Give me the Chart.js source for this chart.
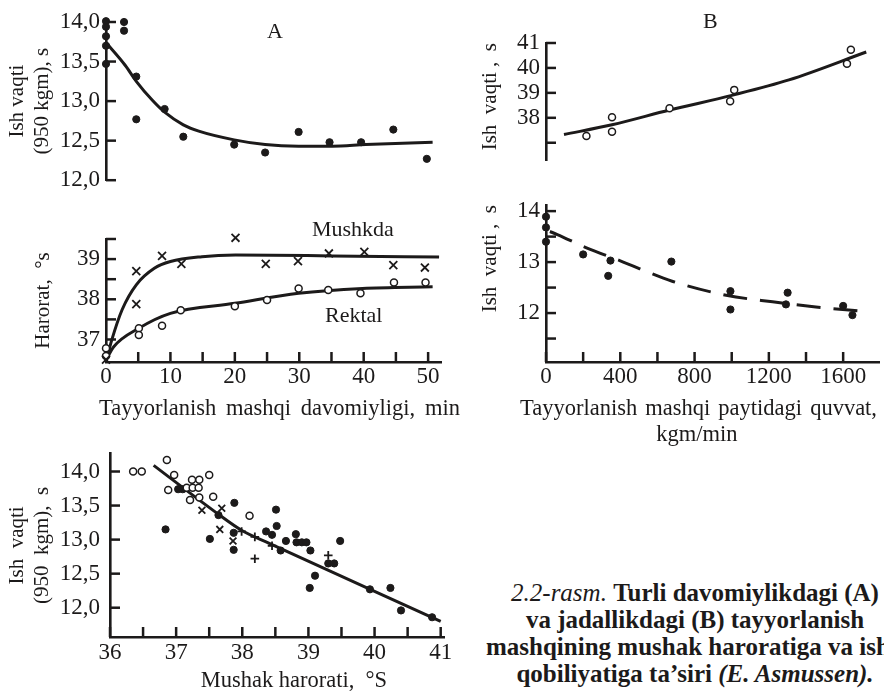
<!DOCTYPE html>
<html>
<head>
<meta charset="utf-8">
<script src="https://cdn.jsdelivr.net/npm/chart.js@4.4.1/dist/chart.umd.min.js"></script>
<style>
  html, body { margin: 0; padding: 0; background: #fff; }
  #wrap { position: relative; width: 884px; height: 695px; overflow: hidden;
          font-family: "Liberation Serif", "DejaVu Serif", serif; color: #1c1a1a; }
  #wrap canvas { position: absolute; }
  .lbl { position: absolute; font-size: 22px; line-height: 1; white-space: nowrap; }
  .xt { position: absolute; font-size: 22.5px; line-height: 1; white-space: nowrap;
        display: flex; justify-content: space-between; }
  .cap { position: absolute; font-size: 25px; line-height: 1; white-space: nowrap;
         transform: translateX(-50%); }
</style>
</head>
<body>
<div id="wrap">
  <canvas id="cA1" width="446" height="200" style="left:0;top:0"></canvas>
  <canvas id="cA2" width="470" height="230" style="left:0;top:200px"></canvas>
  <canvas id="cB1" width="438" height="180" style="left:446px;top:0"></canvas>
  <canvas id="cB2" width="438" height="270" style="left:446px;top:180px"></canvas>
  <canvas id="cC" width="460" height="265" style="left:0;top:430px"></canvas>

  <div class="lbl" style="left:267px;top:20px">A</div>
  <div class="lbl" style="left:703px;top:10px">B</div>
  <div class="lbl" style="left:312px;top:218px">Mushkda</div>
  <div class="lbl" style="left:325px;top:304px">Rektal</div>

  <div class="xt" style="left:99px;top:397px;width:361px">
    <span>Tayyorlanish</span><span>mashqi</span><span>davomiyligi,</span><span>min</span></div>
  <div class="xt" style="left:520px;top:397px;width:357px">
    <span>Tayyorlanish</span><span>mashqi</span><span>paytidagi</span><span>quvvat,</span></div>
  <div class="xt" style="left:697px;top:423px;transform:translateX(-50%)">kgm/min</div>

  <div class="cap" style="left:695px;top:580px"><i>2.2-rasm.</i> <b>Turli davomiylikdagi (A)</b></div>
  <div class="cap" style="left:695px;top:607px"><b>va jadallikdagi (B) tayyorlanish</b></div>
  <div class="cap" style="left:486px;top:634px;transform:none"><b>mashqining mushak haroratiga va ish</b></div>
  <div class="cap" style="left:695px;top:661px"><b>qobiliyatiga ta’siri <i>(E. Asmussen).</i></b></div>
</div>

<script>
const INK = "#1c1a1a";

// A, yuqori: ish vaqti (s) va tayyorlanish davomiyligi (min)
const aWorkMin = [0, 0, 0, 0, 0, 2.8, 2.8, 4.7, 4.7, 9.1, 12.0, 19.9, 24.7, 29.9, 34.7, 39.6, 44.6, 49.8];
const aWorkSec = [14.01, 13.94, 13.82, 13.70, 13.47, 14.00, 13.89, 13.31, 12.77, 12.90, 12.55, 12.45, 12.35, 12.61, 12.48, 12.48, 12.64, 12.27];
const aWorkFitMin = [0, 3, 4.7, 7.2, 9.1, 12, 14.4, 19.9, 24.7, 29.9, 35.1, 40.3, 50.7];
const aWorkFitSec = [13.74, 13.45, 13.25, 13.01, 12.86, 12.70, 12.62, 12.51, 12.45, 12.43, 12.43, 12.45, 12.48];
const aWorkTicks = [12, 12.5, 13, 13.5, 14];
const aWorkLabels = ["12,0", "12,5", "13,0", "13,5", "14,0"];

// A, pastki: harorat (mushakda va rektal)
const muscleMin = [0, 4.7, 4.7, 8.7, 11.7, 20.1, 24.8, 29.8, 34.6, 40.1, 44.6, 49.5];
const muscleTemp = [36.5, 38.70, 37.88, 39.08, 38.88, 39.53, 38.88, 38.95, 39.14, 39.18, 38.85, 38.79];
const muscleFitMin = [0, 0.9, 2.5, 4.7, 7.5, 10, 14.9, 20.1, 35.1, 51.7];
const muscleFitTemp = [36.45, 36.99, 37.74, 38.36, 38.77, 38.94, 39.06, 39.10, 39.08, 39.05];
const rectalMin = [0, 0, 5.1, 5.1, 8.7, 11.6, 20, 25, 29.9, 34.5, 39.5, 44.7, 49.6];
const rectalTemp = [36.78, 36.59, 37.28, 37.11, 37.34, 37.73, 37.83, 37.98, 38.27, 38.23, 38.15, 38.42, 38.42];
const rectalFitMin = [0, 1.2, 5.1, 10, 20, 29.9, 39.8, 50.7];
const rectalFitTemp = [36.49, 36.82, 37.28, 37.65, 37.90, 38.15, 38.27, 38.31];
const tempTicks = [37, 37.5, 38, 38.5, 39, 39.5];
const tempLabels = ["37", "", "38", "", "39", ""];
const minTicks = [0, 5, 10, 15, 20, 25, 30, 35, 40, 45, 50];
const minLabels = ["0", "", "10", "", "20", "", "30", "", "40", "", "50"];

// B, yuqori: ish vaqti (s) va quvvat (kgm/min)
const bLongPower = [218, 356, 356, 666, 993, 1015, 1623, 1644];
const bLongSec = [37.27, 38.02, 37.44, 38.38, 38.66, 39.12, 40.17, 40.73];
const bLongFitPower = [97, 356, 666, 1002, 1310, 1727];
const bLongFitSec = [37.33, 37.72, 38.31, 38.90, 39.52, 40.64];
const bLongTicks = [37, 38, 39, 40, 41];
const bLongLabels = ["", "38", "39", "40", "41"];

// B, pastki: ish vaqti (s) va quvvat (kgm/min)
const bShortPower = [0, 0, 0, 200, 347, 335, 675, 993, 993, 1301, 1292, 1600, 1650];
const bShortSec = [13.89, 13.68, 13.40, 13.15, 13.03, 12.73, 13.01, 12.43, 12.07, 12.40, 12.17, 12.14, 11.96];
const bShortFitPower = [21, 61, 218, 397, 683, 970, 1220, 1453, 1695];
const bShortFitSec = [13.60, 13.54, 13.28, 13.03, 12.62, 12.35, 12.22, 12.12, 12.04];
const bShortTicks = [11.5, 12, 12.5, 13, 13.5, 14];
const bShortLabels = ["", "12", "", "13", "", "14"];
const powerTicks = [0, 200, 400, 600, 800, 1000, 1200, 1400, 1600];
const powerLabels = ["0", "", "400", "", "800", "", "1200", "", "1600"];

// pastki chap: ish vaqti va mushak harorati
const cOpenTemp = [36.35, 36.48, 36.86, 36.88, 36.97, 37.16, 37.24, 37.25, 37.21, 37.35, 37.34, 37.35, 37.50, 37.56, 38.11];
const cOpenSec = [14.0, 14.0, 14.17, 13.73, 13.95, 13.76, 13.88, 13.76, 13.58, 13.88, 13.76, 13.62, 13.95, 13.63, 13.35];
const cDotTemp = [37.03, 37.10, 36.84, 37.51, 37.64, 37.88, 37.87, 37.87, 38.36, 38.45, 38.51, 38.52, 38.58, 38.66,
                  38.81, 38.82, 38.90, 38.97, 39.03, 39.02, 39.10, 39.30, 39.39, 39.48, 39.93, 40.24, 40.40, 40.87];
const cDotSec = [13.74, 13.74, 13.15, 13.01, 13.36, 13.54, 13.10, 12.85, 13.12, 13.07, 13.44, 13.20, 12.84, 12.98,
                 13.08, 12.96, 12.96, 12.96, 12.84, 12.29, 12.47, 12.65, 12.65, 12.98, 12.27, 12.29, 11.96, 11.86];
const cCrossTemp = [37.39, 37.69, 37.66, 37.86];
const cCrossSec = [13.43, 13.46, 13.15, 12.98];
const cPlusTemp = [37.99, 38.19, 38.19, 38.45, 39.30];
const cPlusSec = [13.12, 13.04, 12.72, 12.91, 12.77];
const cFitTemp = [36.66, 37.6, 38.0, 38.4, 41.0];
const cFitSec = [14.09, 13.40, 13.13, 12.95, 11.80];
const cSecTicks = [12, 12.5, 13, 13.5, 14];
const cSecLabels = ["12,0", "12,5", "13,0", "13,5", "14,0"];
const cTempTicks = [36, 36.5, 37, 37.5, 38, 38.5, 39, 39.5, 40, 40.5, 41];
const cTempLabels = ["36", "", "37", "", "38", "", "39", "", "40", "", "41"];

Chart.defaults.font.family = "'Liberation Serif', 'DejaVu Serif', serif";
Chart.defaults.color = INK;
Chart.defaults.animation = false;

const zip = (xs, ys) => xs.map((x, i) => ({ x, y: ys[i] }));

// ichkariga qaragan shtrixlar (tick) o'qlar bo'yicha
const inwardTicks = {
  id: "inwardTicks",
  beforeDatasetsDraw(chart) {
    const { ctx, chartArea } = chart;
    ctx.save();
    ctx.strokeStyle = INK;
    ctx.lineWidth = 2.5;
    Object.values(chart.scales).forEach(s => {
      if (!s.options.display) return;
      s.ticks.forEach(t => {
        const p = s.getPixelForValue(t.value);
        ctx.beginPath();
        if (s.isHorizontal()) {
          ctx.moveTo(p, chartArea.bottom);
          ctx.lineTo(p, chartArea.bottom - 10);
        } else {
          ctx.moveTo(chartArea.left, p);
          ctx.lineTo(chartArea.left + 10, p);
        }
        ctx.stroke();
      });
    });
    ctx.restore();
  }
};

function dots(data) {
  return { data, pointStyle: "circle", pointRadius: 3.6, borderWidth: 1, backgroundColor: INK, borderColor: INK };
}
function rings(data) {
  return { data, pointStyle: "circle", pointRadius: 3.5, borderWidth: 1.5, backgroundColor: "#fff", borderColor: INK };
}
function marks(data, style, r) {
  return { data, pointStyle: style, pointRadius: r, borderWidth: 1.8, borderColor: INK, backgroundColor: INK };
}
function curve(data, dash) {
  return { data, showLine: true, pointRadius: 0, borderWidth: 3, borderColor: INK,
           cubicInterpolationMode: "monotone", borderDash: dash || [], order: 5 };
}

function axis(o) {
  return {
    type: "linear",
    display: o.display !== false,
    min: o.min,
    max: o.max,
    afterBuildTicks: s => { s.ticks = o.ticks.map(v => ({ value: v })); },
    afterFit: s => { if (o.size != null) { if (s.isHorizontal()) s.height = o.size; else s.width = o.size; } },
    grid: { display: true, drawOnChartArea: false, drawTicks: false },
    border: { display: true, color: INK, width: 2.6 },
    ticks: { autoSkip: false, maxRotation: 0, padding: o.pad, font: { size: 23 }, color: INK,
             callback: (v, i) => o.labels[i] },
    title: o.title ? { display: true, text: o.title, align: o.align || "center", color: INK,
                       font: { size: o.titleSize || 21 }, padding: o.titlePad } : { display: false }
  };
}

function panel(id, padding, x, y, datasets) {
  new Chart(document.getElementById(id), {
    type: "scatter",
    data: { datasets: datasets.map(d => Object.assign({ clip: false }, d)) },
    options: {
      responsive: false,
      layout: { padding },
      plugins: { legend: { display: false }, tooltip: { enabled: false } },
      scales: { x: axis(x), y: axis(y) }
    },
    plugins: [inwardTicks]
  });
}

// A yuqori
panel("cA1", { left: 0, top: 22, right: 5, bottom: 14 },
  { display: false, min: 0, max: 52, ticks: minTicks, labels: minLabels },
  { min: 12, max: 14, ticks: aWorkTicks, labels: aWorkLabels, size: 106, pad: 6,
    title: ["Ish vaqti", "(950 kgm), s"], titlePad: { top: 5, bottom: 0 } },
  [curve(zip(aWorkFitMin, aWorkFitSec)), dots(zip(aWorkMin, aWorkSec))]);

// A pastki (x sarlavhasi HTML matn sifatida)
panel("cA2", { left: 0, top: 39, right: 29, bottom: 6 },
  { min: 0, max: 52, ticks: minTicks, labels: minLabels, size: 62, pad: 1 },
  { min: 36.44, max: 39.5, ticks: tempTicks, labels: tempLabels, size: 106, pad: 6,
    title: "Harorat,  °s", titlePad: { top: 31, bottom: 0 } },
  [curve(zip(muscleFitMin, muscleFitTemp)), curve(zip(rectalFitMin, rectalFitTemp)),
   marks(zip(muscleMin, muscleTemp), "crossRot", 5.6), rings(zip(rectalMin, rectalTemp))]);

// B yuqori
panel("cB1", { left: 0, top: 43, right: 4, bottom: 17 },
  { display: false, min: 0, max: 1793, ticks: powerTicks, labels: powerLabels },
  { min: 36.3, max: 41, ticks: bLongTicks, labels: bLongLabels, size: 100, pad: 6,
    title: "Ish  vaqti ,  s", align: "end", titlePad: { top: 32, bottom: 0 } },
  [curve(zip(bLongFitPower, bLongFitSec)), rings(zip(bLongPower, bLongSec))]);

// B pastki
panel("cB2", { left: 0, top: 25, right: 4, bottom: 4 },
  { min: 0, max: 1793, ticks: powerTicks, labels: powerLabels, size: 84, pad: 1 },
  { min: 11.04, max: 14.12, ticks: bShortTicks, labels: bShortLabels, size: 100, pad: 6,
    title: "Ish  vaqti ,  s", align: "end", titlePad: { top: 32, bottom: 0 } },
  [curve(zip(bShortFitPower, bShortFitSec), [24, 13]), dots(zip(bShortPower, bShortSec))]);

// pastki chap
panel("cC", { left: 0, top: 17, right: 16, bottom: 0 },
  { min: 36, max: 41.05, ticks: cTempTicks, labels: cTempLabels, size: 58, pad: 2, titleSize: 22.5,
    title: "      Mushak harorati,  °S", titlePad: { top: 0, bottom: 0 } },
  { min: 11.57, max: 14.26, ticks: cSecTicks, labels: cSecLabels, size: 110, pad: 10,
    title: ["Ish  vaqti", "(950  kgm),  s"], titlePad: { top: 5, bottom: 0 } },
  [curve(zip(cFitTemp, cFitSec)), rings(zip(cOpenTemp, cOpenSec)), dots(zip(cDotTemp, cDotSec)),
   marks(zip(cCrossTemp, cCrossSec), "crossRot", 4.8), marks(zip(cPlusTemp, cPlusSec), "cross", 4.3)]);
</script>
</body>
</html>
